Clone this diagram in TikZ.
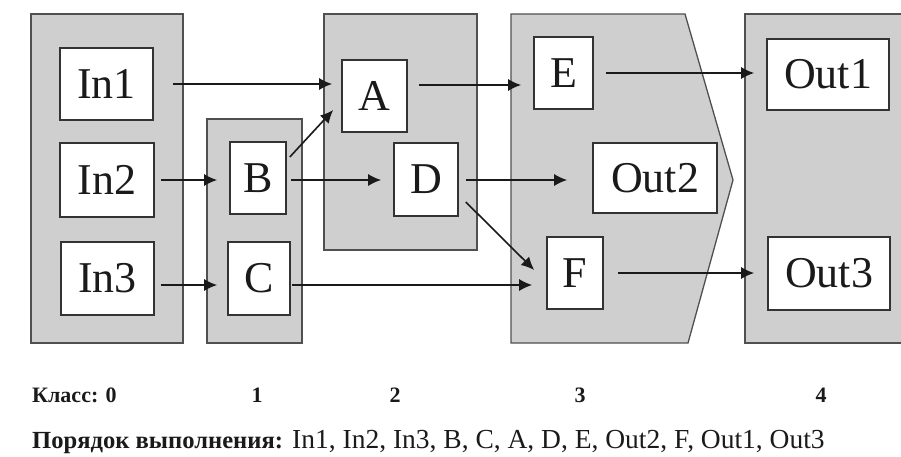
\documentclass[tikz,border=0pt]{standalone}
\usepackage{fontspec}
\setmainfont{Liberation Serif}
\usetikzlibrary{arrows.meta,calc}
\definecolor{clsgray}{HTML}{CFCFCF}
\definecolor{edgegray}{HTML}{505050}
\definecolor{boxgray}{HTML}{333333}
\definecolor{txt}{HTML}{1A1A1A}
\begin{document}
\begin{tikzpicture}[x=1pt,y=-1pt,
  cls/.style={fill=clsgray, draw=edgegray, line width=1.3pt},
  box/.style={draw=boxgray, fill=white, line width=1.6pt, inner sep=0pt, text=txt, font=\fontsize{44}{44}\selectfont},
  arr/.style={draw=txt, line width=1.6pt, -{Latex[length=13pt,width=12pt]}},
  lbl/.style={font=\bfseries\fontsize{22}{22}\selectfont, text=txt, anchor=base, inner sep=0pt}
]
\useasboundingbox (0,0) rectangle (901,456);
% class regions
\draw[cls] (31,14) rectangle (183,343);
\draw[cls] (207,119) rectangle (302,343);
\draw[cls] (324,14) rectangle (477,250);
\draw[cls] (511,14) -- (685,14) -- (733,180) -- (688,343) -- (511,343) -- cycle;
\draw[cls] (745,14) rectangle (920,343);
% nodes
\node[box, minimum width=93pt, minimum height=72pt] (In1) at (106.5,84) {In1};
\node[box, minimum width=94pt, minimum height=74pt] (In2) at (107,180) {In2};
\node[box, minimum width=93pt, minimum height=73pt] (In3) at (107.5,278.5) {In3};
\node[box, minimum width=56pt, minimum height=72pt] (B) at (258,178) {B};
\node[box, minimum width=62pt, minimum height=73pt] (C) at (259,278.5) {C};
\node[box, minimum width=65pt, minimum height=72pt] (A) at (374.5,96) {A};
\node[box, minimum width=64pt, minimum height=73pt] (D) at (426,179.5) {D};
\node[box, minimum width=59pt, minimum height=72pt] (E) at (563.5,73) {E};
\node[box, minimum width=124pt, minimum height=70pt] (Out2) at (655,178) {Out2};
\node[box, minimum width=56pt, minimum height=72pt] (F) at (575,273) {F};
\node[box, minimum width=122pt, minimum height=71pt] (Out1) at (828,74.5) {Out1};
\node[box, minimum width=122pt, minimum height=73pt] (Out3) at (829,273.5) {Out3};
% connector anchor points
\coordinate (bd) at ($(B.east)+(0,2)$);
\coordinate (in3c) at ($(In3.east)+(0,6.5)$);
\coordinate (cf) at ($(C.east)+(0,6.5)$);
\coordinate (ae) at ($(A.east)+(0,-11)$);
\coordinate (ba1) at ($(B.east)+(3,-21)$);
\coordinate (ba2) at ($(A.west)+(-8,14)$);
\coordinate (df1) at ($(D.east)+(7,22.5)$);
\coordinate (df2) at ($(F.west)+(-12,-3)$);
\coordinate (do) at ($(D.east)+(0,0.5)$);
% connectors
\draw[arr, shorten <=19pt, shorten >=9pt] (In1.east) -- (In1.east -| A.west);
\draw[arr] (ba1) -- (ba2);
\draw[arr, shorten <=6pt, shorten >=12pt] (In2.east) -- (In2.east -| B.west);
\draw[arr, shorten <=4pt, shorten >=12pt] (bd) -- (bd -| D.west);
\draw[arr, shorten <=6pt, shorten >=10pt] (in3c) -- (in3c -| C.west);
\draw[arr, shorten <=1pt, shorten >=14pt] (cf) -- (cf -| F.west);
\draw[arr, shorten <=11pt, shorten >=12pt] (ae) -- (ae -| E.west);
\draw[arr, shorten <=7pt, shorten >=25pt] (do) -- (do -| Out2.west);
\draw[arr] (df1) -- (df2);
\draw[arr, shorten <=12pt, shorten >=12pt] (E.east) -- (E.east -| Out1.west);
\draw[arr, shorten <=14pt, shorten >=13pt] (F.east) -- (F.east -| Out3.west);
% labels
\node[lbl, anchor=base west] (k0) at (32,402) {Класс: 0};
\node[lbl] (k1) at (257,402) {1};
\node[lbl] (k2) at (395,402) {2};
\node[lbl] (k3) at (580,402) {3};
\node[lbl] (k4) at (821,402) {4};
\node[anchor=base west, text=txt, font=\fontsize{27.5}{27.5}\selectfont, inner sep=0pt] (ord) at (32,448) {{\bfseries\fontsize{24.6}{24.6}\selectfont Порядок выполнения:} In1, In2, In3, B, C, A, D, E, Out2, F, Out1, Out3};
\end{tikzpicture}
\end{document}
